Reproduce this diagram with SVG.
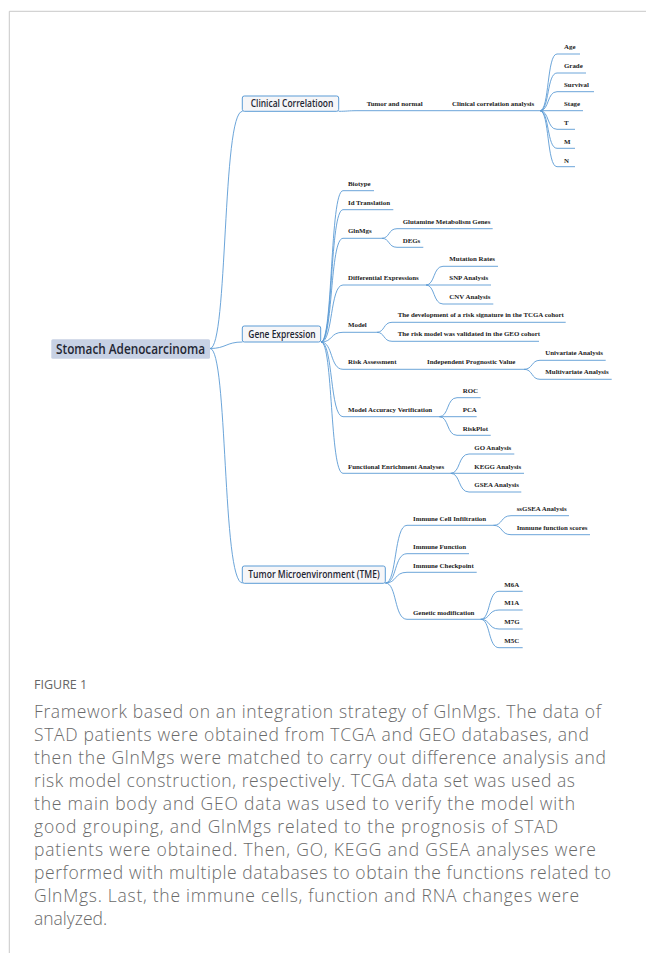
<svg xmlns="http://www.w3.org/2000/svg" width="646" height="953" viewBox="0 0 646 953">
<style>
.t{font-family:"Liberation Serif","Times New Roman",serif;font-weight:bold;font-size:6.9px;fill:#222}
.c{fill:none;stroke:#5b9bd5;stroke-width:0.9}
.box{fill:#f6f6f8;stroke:#5b9bd5;stroke-width:1}
.bt{font-family:"Open Sans","Noto Sans",sans-serif;font-weight:600;fill:#1f2633}
.cap{font-family:"Open Sans","Noto Sans",sans-serif;font-weight:300;font-size:17.5px;fill:#6a6a6a}
</style>
<rect width="646" height="953" fill="#fff"/>
<path d="M9.3,953 V11.3 H646" fill="none" stroke="#c8c8c8" stroke-width="1"/>

<g id="connectors">
<path class="c" d="M210,348.5 C228,348.5 222,111.3 242.5,111.3"/>
<path class="c" d="M210,348.5 C226,348.5 226,342 242.5,342"/>
<path class="c" d="M210,348.5 C228,348.5 222,583 242.5,583"/>
<path class="c" d="M338.7,111.3 C347,111.3 348,110.7 357,110.7 H540"/>
<path class="c" d="M540,110.7 C549.4,110.7 546.8,54 557,54 H580"/>
<path class="c" d="M540,110.7 C549.4,110.7 546.8,73 557,73 H586"/>
<path class="c" d="M540,110.7 C549.4,110.7 546.8,91.7 557,91.7 H594"/>
<path class="c" d="M540,110.7 H583"/>
<path class="c" d="M540,110.7 C549.4,110.7 546.8,129.3 557,129.3 H575"/>
<path class="c" d="M540,110.7 C549.4,110.7 546.8,148.3 557,148.3 H575"/>
<path class="c" d="M540,110.7 C549.4,110.7 546.8,166.7 557,166.7 H575"/>
<path class="c" d="M321,342 C333.1,342 329.8,190.7 343,190.7 H374"/>
<path class="c" d="M321,342 C333.1,342 329.8,209.7 343,209.7 H393.3"/>
<path class="c" d="M321,342 C333.1,342 329.8,238.3 343,238.3 H381.7"/>
<path class="c" d="M321,342 C333.1,342 329.8,285 343,285 H426"/>
<path class="c" d="M321,342 C333.1,342 329.8,332.3 343,332.3 H376.7"/>
<path class="c" d="M321,342 C333.1,342 329.8,369.3 343,369.3 H524"/>
<path class="c" d="M321,342 C333.1,342 329.8,416.7 343,416.7 H439.3"/>
<path class="c" d="M321,342 C333.1,342 329.8,473.3 343,473.3 H450.7"/>
<path class="c" d="M381.7,238.3 C390,238.3 388,228.7 397,228.7 H492.7"/>
<path class="c" d="M381.7,238.3 C390,238.3 388,247.3 397,247.3 H423.3"/>
<path class="c" d="M426,285 C435,285 433,266.3 443,266.3 H498"/>
<path class="c" d="M426,285 H491"/>
<path class="c" d="M426,285 C435,285 433,304 443,304 H493.3"/>
<path class="c" d="M376.7,332.3 C385,332.3 383,322.3 392,322.3 H565.7"/>
<path class="c" d="M376.7,332.3 C385,332.3 383,341.3 392,341.3 H539"/>
<path class="c" d="M524,369.3 C533,369.3 531,360.3 540,360.3 H605.7"/>
<path class="c" d="M524,369.3 C533,369.3 531,379.3 540,379.3 H611.7"/>
<path class="c" d="M439.3,416.7 C449,416.7 446.5,397.7 457,397.7 H480.7"/>
<path class="c" d="M439.3,416.7 H476.7"/>
<path class="c" d="M439.3,416.7 C449,416.7 446.5,435.3 457,435.3 H490.7"/>
<path class="c" d="M450.7,473.3 C460.5,473.3 458,454 469,454 H514.3"/>
<path class="c" d="M450.7,473.3 H524"/>
<path class="c" d="M450.7,473.3 C460.5,473.3 458,492 469,492 H521.3"/>
<path class="c" d="M385.5,583 C397,583 394,525.3 407,525.3 H493.3"/>
<path class="c" d="M385.5,583 C397,583 394,553.7 407,553.7 H469"/>
<path class="c" d="M385.5,583 C397,583 394,572.3 407,572.3 H476.7"/>
<path class="c" d="M385.5,583 C397,583 394,619.3 407,619.3 H480.7"/>
<path class="c" d="M493.3,525.3 C503,525.3 500.5,515.7 511,515.7 H569"/>
<path class="c" d="M493.3,525.3 C503,525.3 500.5,534.7 511,534.7 H590"/>
<path class="c" d="M480.7,619.3 C490.5,619.3 488,591.3 499,591.3 H522.7"/>
<path class="c" d="M480.7,619.3 C490.5,619.3 488,610 499,610 H522.7"/>
<path class="c" d="M480.7,619.3 C490.5,619.3 488,629 499,629 H522.7"/>
<path class="c" d="M480.7,619.3 C490.5,619.3 488,647.7 499,647.7 H522.7"/>
</g>

<g id="root">
<rect x="51.3" y="339.3" width="158.7" height="19.4" rx="1.5" fill="#c7d1e4"/>
<text class="bt" x="56" y="353.6" font-size="14" textLength="149" lengthAdjust="spacingAndGlyphs">Stomach Adenocarcinoma</text>
</g>
<g id="clinical">
<rect class="box" x="242.3" y="96" width="96.4" height="15.3" rx="2"/>
<text class="bt" x="250.7" y="106.8" font-size="10" textLength="82.6" lengthAdjust="spacingAndGlyphs">Clinical Correlatioon</text>
</g>
<g id="gene">
<rect class="box" x="242.3" y="326" width="78.4" height="16" rx="2"/>
<text class="bt" x="248.3" y="337.8" font-size="10" textLength="67.4" lengthAdjust="spacingAndGlyphs">Gene Expression</text>
</g>
<g id="tme">
<rect class="box" x="242.3" y="566" width="143" height="17.3" rx="2"/>
<text class="bt" x="248.3" y="578.4" font-size="10.5" textLength="131.4" lengthAdjust="spacingAndGlyphs">Tumor Microenvironment (TME)</text>
</g>

<g id="clinical-children">
<text class="t" x="366.7" y="106">Tumor and normal</text>
<text class="t" x="452" y="106">Clinical correlation analysis</text>
<text class="t" x="564" y="49.3">Age</text>
<text class="t" x="564" y="68.3">Grade</text>
<text class="t" x="564" y="87.3">Survival</text>
<text class="t" x="564" y="106">Stage</text>
<text class="t" x="564" y="125">T</text>
<text class="t" x="564" y="144">M</text>
<text class="t" x="564" y="162.7">N</text>
</g>
<g id="gene-children">
<text class="t" x="348" y="186">Biotype</text>
<text class="t" x="348" y="205">Id Translation</text>
<text class="t" x="348" y="233.3">GlnMgs</text>
<text class="t" x="402.7" y="224">Glutamine Metabolism Genes</text>
<text class="t" x="402.7" y="242.7">DEGs</text>
<text class="t" x="348" y="280">Differential Expressions</text>
<text class="t" x="449.3" y="261.3">Mutation Rates</text>
<text class="t" x="449.3" y="280">SNP Analysis</text>
<text class="t" x="449.3" y="299">CNV Analysis</text>
<text class="t" x="348" y="326.7">Model</text>
<text class="t" x="397.7" y="317.3">The development of a risk signature in the TCGA cohort</text>
<text class="t" x="397.7" y="336">The risk model was validated in the GEO cohort</text>
<text class="t" x="348" y="364.3">Risk Assessment</text>
<text class="t" x="427" y="364.3">Independent Prognostic Value</text>
<text class="t" x="545.3" y="355">Univariate Analysis</text>
<text class="t" x="545.3" y="373.7">Multivariate Analysis</text>
<text class="t" x="348" y="412.3">Model Accuracy Verification</text>
<text class="t" x="462.7" y="393.3">ROC</text>
<text class="t" x="462.7" y="412.3">PCA</text>
<text class="t" x="462.7" y="431">RiskPlot</text>
<text class="t" x="348" y="468.7">Functional Enrichment Analyses</text>
<text class="t" x="474.3" y="449.7">GO Analysis</text>
<text class="t" x="474.3" y="468.7">KEGG Analysis</text>
<text class="t" x="474.3" y="487.3">GSEA Analysis</text>
</g>
<g id="tme-children">
<text class="t" x="413" y="520.7">Immune Cell Infiltration</text>
<text class="t" x="516.7" y="511">ssGSEA Analysis</text>
<text class="t" x="516.7" y="530">Immune function scores</text>
<text class="t" x="413" y="549">Immune Function</text>
<text class="t" x="413" y="567.7">Immune Checkpoint</text>
<text class="t" x="413" y="614.7">Genetic modification</text>
<text class="t" x="504.3" y="586.7">M6A</text>
<text class="t" x="504.3" y="605.3">M1A</text>
<text class="t" x="504.3" y="624.3">M7G</text>
<text class="t" x="504.3" y="643">M5C</text>
</g>

<g id="caption">
<text x="34" y="689" font-family="'Open Sans','Noto Sans',sans-serif" font-size="12.5" fill="#666">FIGURE 1</text>
<text class="cap" x="34" y="718" textLength="567" lengthAdjust="spacing">Framework based on an integration strategy of GlnMgs. The data of</text>
<text class="cap" x="34" y="741" textLength="555" lengthAdjust="spacing">STAD patients were obtained from TCGA and GEO databases, and</text>
<text class="cap" x="34" y="764" textLength="572" lengthAdjust="spacing">then the GlnMgs were matched to carry out difference analysis and</text>
<text class="cap" x="34" y="787" textLength="541" lengthAdjust="spacing">risk model construction, respectively. TCGA data set was used as</text>
<text class="cap" x="34" y="810" textLength="541" lengthAdjust="spacing">the main body and GEO data was used to verify the model with</text>
<text class="cap" x="34" y="833" textLength="524" lengthAdjust="spacing">good grouping, and GlnMgs related to the prognosis of STAD</text>
<text class="cap" x="34" y="856" textLength="562" lengthAdjust="spacing">patients were obtained. Then, GO, KEGG and GSEA analyses were</text>
<text class="cap" x="34" y="879" textLength="577" lengthAdjust="spacing">performed with multiple databases to obtain the functions related to</text>
<text class="cap" x="34" y="902" textLength="545" lengthAdjust="spacing">GlnMgs. Last, the immune cells, function and RNA changes were</text>
<text class="cap" x="34" y="925">analyzed.</text>
</g>
</svg>
